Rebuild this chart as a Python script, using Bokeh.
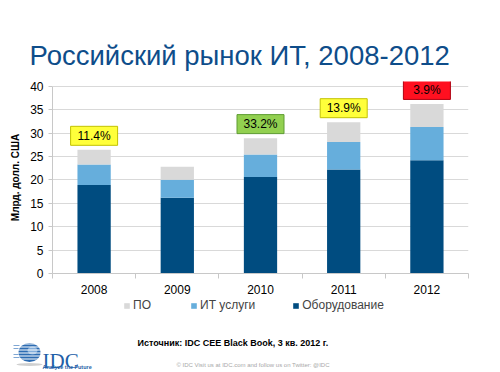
import numpy as np
from bokeh.plotting import figure
from bokeh.layouts import column, row
from bokeh.models import (ColumnDataSource, Range1d, FixedTicker, Legend, LegendItem)
from bokeh.core.properties import value
from bokeh.embed import file_html
from bokeh.resources import INLINE

# ---- data ----
years = ["2008", "2009", "2010", "2011", "2012"]
hardware = [18.9, 16.2, 20.6, 22.2, 24.2]
services = [4.4, 3.8, 4.8, 5.9, 7.1]
software = [3.1, 2.8, 3.5, 4.2, 4.9]
growth_labels = ["11.4%", "", "33.2%", "13.9%", "3.9%"]
growth_colors = ["#FFFF3A", None, "#92D050", "#FFFF3A", "#FF1020"]
growth_borders = ["#C2C200", None, "#5E9C33", "#C2C200", "#B00010"]
y_ticks = [0, 5, 10, 15, 20, 25, 30, 35, 40]
series_names = ["Оборудование", "ИТ услуги", "ПО"]

FONT = "Liberation Sans"
C_HW, C_SV, C_SW = "#004C80", "#66AEDC", "#D9D9D9"
W = 500


def blank(h, top):
    f = figure(width=W, height=h, output_backend="svg", toolbar_location=None, title=None,
               x_range=Range1d(0, W), y_range=Range1d(top + h, top),
               x_axis_type=None, y_axis_type=None,
               min_border_left=0, min_border_right=0, min_border_top=0, min_border_bottom=0)
    f.outline_line_color = None
    f.xgrid.grid_line_color = None
    f.ygrid.grid_line_color = None
    return f


# ---- header ----
HEAD_H = 75
head = blank(HEAD_H, 0)
head.text(x=[29], y=[55], text=["Российский рынок ИТ, 2008-2012"], text_font=value(FONT),
          text_font_size="27.5px", text_color="#0E4D8A", text_baseline="alphabetic")

# ---- main chart ----
MAIN_H = 221
xc = np.arange(len(years)) + 0.5
totals = np.array(hardware) + np.array(services) + np.array(software)
src = ColumnDataSource(dict(x=xc, hw=hardware, sv=services, sw=software))

p = figure(width=W, height=MAIN_H, output_backend="svg", toolbar_location=None, title=None,
           x_range=Range1d(0, len(years)), y_range=Range1d(0, 41),
           min_border_left=52, min_border_right=32, min_border_top=6, min_border_bottom=23)
p.outline_line_color = None

rs = p.vbar_stack(["hw", "sv", "sw"], x="x", width=0.4, source=src,
                  color=[C_HW, C_SV, C_SW], line_color=None)

lab = [i for i, t in enumerate(growth_labels) if t]
bsrc = ColumnDataSource(dict(
    x=[xc[i] for i in lab], y=[totals[i] + 3.0 for i in lab],
    t=[growth_labels[i] for i in lab], c=[growth_colors[i] for i in lab],
    b=[growth_borders[i] for i in lab]))
p.rect(x="x", y="y", width=47, height=19, width_units="screen", height_units="screen",
       fill_color="c", line_color="b", line_width=1, source=bsrc)
p.text(x="x", y="y", text="t", text_align="center", text_baseline="middle",
       text_font=value(FONT), text_font_size="12px", text_color="black", source=bsrc)

p.yaxis.ticker = FixedTicker(ticks=y_ticks)
p.yaxis.bounds = (0, 40)
p.yaxis.axis_line_color = "#C8C8C8"
p.yaxis.major_tick_line_color = "#C8C8C8"
p.yaxis.major_tick_out = 4
p.yaxis.major_tick_in = 0
p.yaxis.minor_tick_line_color = None
p.yaxis.major_label_standoff = 5
p.yaxis.major_label_text_font = FONT
p.yaxis.major_label_text_font_size = "12px"
p.yaxis.major_label_text_color = "black"
p.yaxis.axis_label = "Млрд. долл. США"
p.yaxis.axis_label_text_font = FONT
p.yaxis.axis_label_text_font_size = "10px"
p.yaxis.axis_label_text_font_style = "bold"
p.yaxis.axis_label_text_color = "black"
p.yaxis.axis_label_standoff = 6

p.xaxis.ticker = FixedTicker(ticks=list(xc), minor_ticks=list(range(len(years) + 1)))
p.xaxis.major_label_overrides = {float(x): y for x, y in zip(xc, years)}
p.xaxis.axis_line_color = "#C8C8C8"
p.xaxis.major_tick_line_color = None
p.xaxis.major_tick_out = 0
p.xaxis.major_tick_in = 0
p.xaxis.minor_tick_line_color = "#C8C8C8"
p.xaxis.minor_tick_out = 5
p.xaxis.minor_tick_in = 0
p.xaxis.major_label_standoff = 6
p.xaxis.major_label_text_font = FONT
p.xaxis.major_label_text_font_size = "12px"
p.xaxis.major_label_text_color = "black"

p.xgrid.grid_line_color = None
p.ygrid.grid_line_color = "#D9D9D9"
p.ygrid.ticker = FixedTicker(ticks=y_ticks)

# ---- footer (legend, source, logo) ----
FOOT_TOP = HEAD_H + MAIN_H
FOOT_H = 372 - FOOT_TOP
foot = blank(FOOT_H, FOOT_TOP)
swatches = [foot.vbar(x=[0], top=[FOOT_TOP], bottom=[FOOT_TOP], width=0,
                      fill_color=c, line_color=None)
            for c in (C_SW, C_SV, C_HW)]
legend = Legend(items=[LegendItem(label=series_names[2], renderers=[swatches[0]]),
                       LegendItem(label=series_names[1], renderers=[swatches[1]]),
                       LegendItem(label=series_names[0], renderers=[swatches[2]])],
                orientation="horizontal", location=(123, 60),
                glyph_width=7, glyph_height=7, label_height=14, label_standoff=3,
                spacing=37, padding=0, margin=0,
                label_text_font=FONT, label_text_font_size="12px",
                border_line_color=None, background_fill_alpha=0)
foot.add_layout(legend)

foot.text(x=[137], y=[342], text=["Источник: IDC CEE Black Book, 3 кв. 2012 г."],
          text_font=value(FONT), text_font_size="9px", text_font_style="bold",
          text_color="black", text_baseline="alphabetic")
foot.text(x=[176], y=[364], text=["© IDC   Visit us at IDC.com and follow us on Twitter: @IDC"],
          text_font=value(FONT), text_font_size="6px", text_color="#A8A8A8",
          text_baseline="alphabetic")
# logo
foot.ellipse(x=[29], y=[364], width=26, height=3, fill_color="#D0D0D0", line_color=None)
foot.ellipse(x=[29], y=[352], width=22, height=19, fill_color="#2D6CB2", line_color=None)
foot.ellipse(x=[32], y=[350], width=10, height=8, fill_color="#A8CBEC", line_color=None, fill_alpha=0.7)
stripe_y = [343.5, 346.5, 349.5, 352.5, 355.5, 358.5]
foot.segment(x0=[13] * len(stripe_y), x1=[41] * len(stripe_y), y0=stripe_y, y1=stripe_y,
             line_color="white", line_width=1)
foot.segment(x0=[13, 13, 13, 13], x1=[19, 18, 18, 19], y0=[345, 348, 354, 357],
             y1=[345, 348, 354, 357], line_color="#7FA6D3", line_width=1)
foot.text(x=[42], y=[360], text=["IDC"], text_font=value("Liberation Serif"),
          text_font_size="21px", text_color="#1F5FA8", text_baseline="alphabetic")
foot.text(x=[42], y=[366], text=["Analyze the Future"], text_font=value(FONT),
          text_font_size="5.5px", text_font_style="bold", text_color="#1F5FA8",
          text_baseline="alphabetic")

layout = column(row(head), row(p), row(foot), spacing=0)
open("out.html", "w").write(file_html(layout, INLINE))
